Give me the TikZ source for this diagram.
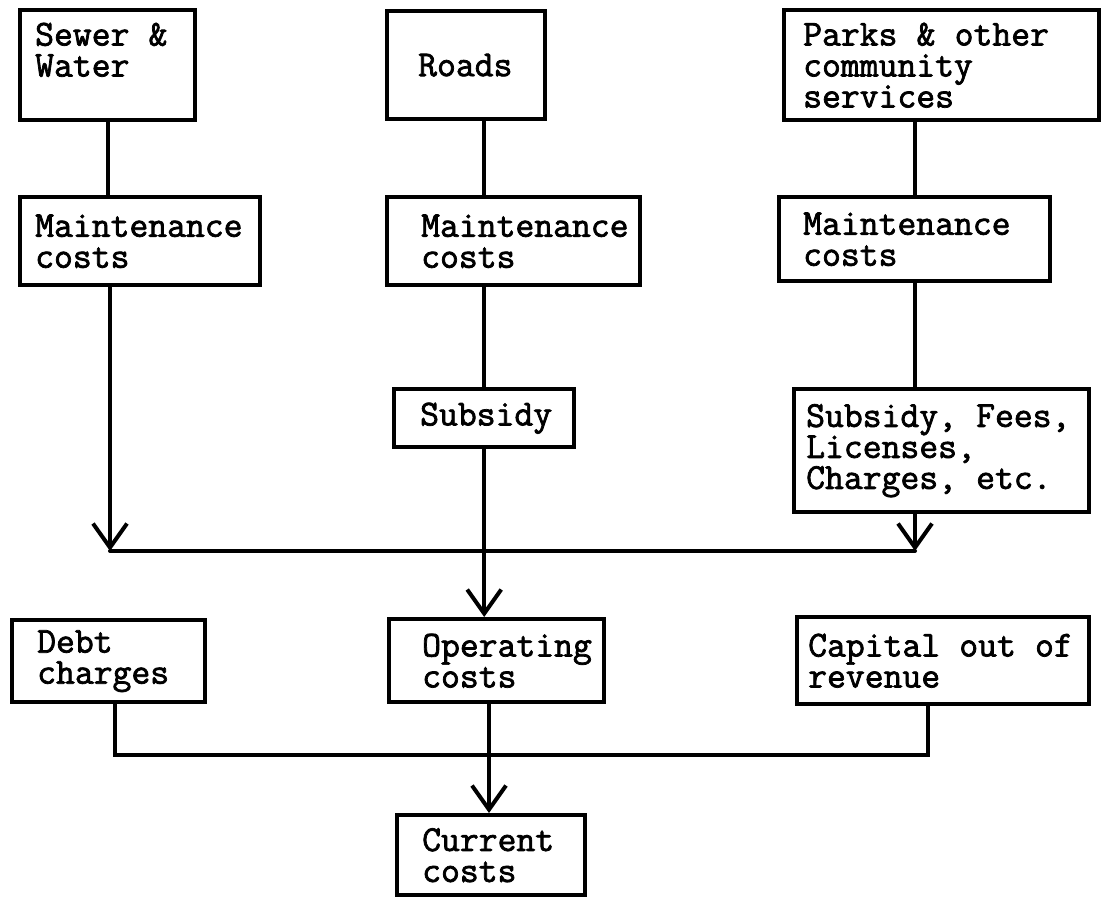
\documentclass[tikz,border=0pt]{standalone}
\usepackage{fontspec}
\newfontfamily\boxfont[FakeBold=2]{Latin Modern Mono}
\usepackage{tikz}
\usetikzlibrary{arrows.meta}

\begin{document}
\begin{tikzpicture}[x=0.5pt,y=-0.5pt,>={Straight Barb[length=12pt,width=17pt]}]

% Stili per caselle e collegamenti
\tikzset{costbox/.style={draw, line width=2.2pt, anchor=north west, align=left,
    inner xsep=3pt, inner ysep=3pt,
    font=\boxfont\fontsize{18.3}{15.5}\selectfont}}
\tikzset{textpad/.style={execute at begin node={\leftskip=#1\spaceskip=9.6pt\relax}}}
\tikzset{link/.style={line width=2pt, line cap=round}}

\useasboundingbox (0,0) rectangle (1101,897);

% --- Riga superiore: servizi ---
\node[costbox, textpad=4.5pt, text width=81.5pt, minimum height=55pt] (sewer) at (18,8) {Sewer \&\\Water\\\mbox{}};
\node[costbox, textpad=12.5pt, text width=73pt, minimum height=54pt] (roads) at (385,9) {Roads};
\node[costbox, textpad=6.5pt, text width=151.5pt, minimum height=55pt] (parks) at (782,8) {Parks \& other\\community\\services};

% --- Costi di manutenzione ---
\node[costbox, textpad=4.5pt, text width=114pt, minimum height=44pt] (maint1) at (18,195) {Maintenance\\costs};
\node[costbox, textpad=14pt, text width=120.5pt, minimum height=44pt] (maint2) at (385,195) {Maintenance\\costs};
\node[costbox, textpad=9pt, text width=129.5pt, minimum height=42pt] (maint3) at (777,195) {Maintenance\\costs};

% --- Finanziamento ---
\node[costbox, textpad=10pt, text width=84pt, minimum height=29pt] (subsidy) at (392,387) {Subsidy};
\node[costbox, textpad=3pt, text width=141.5pt, minimum height=61.5pt] (fees) at (792,387) {Subsidy, Fees,\\Licenses,\\Charges, etc.};

% --- Parte inferiore ---
\node[costbox, textpad=9.5pt, text width=90.5pt, minimum height=41pt] (debt) at (10,618) {Debt\\charges};
\node[costbox, textpad=13.5pt, text width=101.5pt, minimum height=41.5pt] (operating) at (387,617) {Operating\\costs};
\node[costbox, textpad=2.5pt, text width=140pt, minimum height=43.5pt] (capital) at (795,615) {Capital out of\\revenue};
\node[costbox, textpad=9.5pt, text width=88pt, minimum height=40pt] (current) at (395,813) {Current\\costs};

% Punti di giunzione
\coordinate (jl) at (110,551);
\coordinate (jr) at (915,551);
\coordinate (bl) at (115,755);
\coordinate (br) at (928,755);

% Collegamenti verticali
\draw[link] (sewer.south -| 108,0) -- (maint1.north -| 108,0);
\draw[link] (roads.south -| subsidy) -- (maint2.north -| subsidy);
\draw[link] (parks.south -| jr) -- (maint3.north -| jr);
\draw[link] (maint2.south -| subsidy) -- (subsidy.north);
\draw[link] (maint3.south -| jr) -- (fees.north -| jr);

% Frecce verso la linea orizzontale
\draw[link,->] (maint1.south -| jl) -- (jl);
\draw[link,->] (fees.south -| jr) -- (jr);
\draw[link] (jl) -- (jr);
\draw[link,->] (subsidy.south) -- (operating.north -| subsidy);

% Costi correnti
\draw[link] (debt.south -| bl) -- (bl) -- (br) -- (capital.south -| br);
\draw[link,->] (operating.south -| 489,0) -- (current.north -| 489,0);

\end{tikzpicture}
\end{document}
